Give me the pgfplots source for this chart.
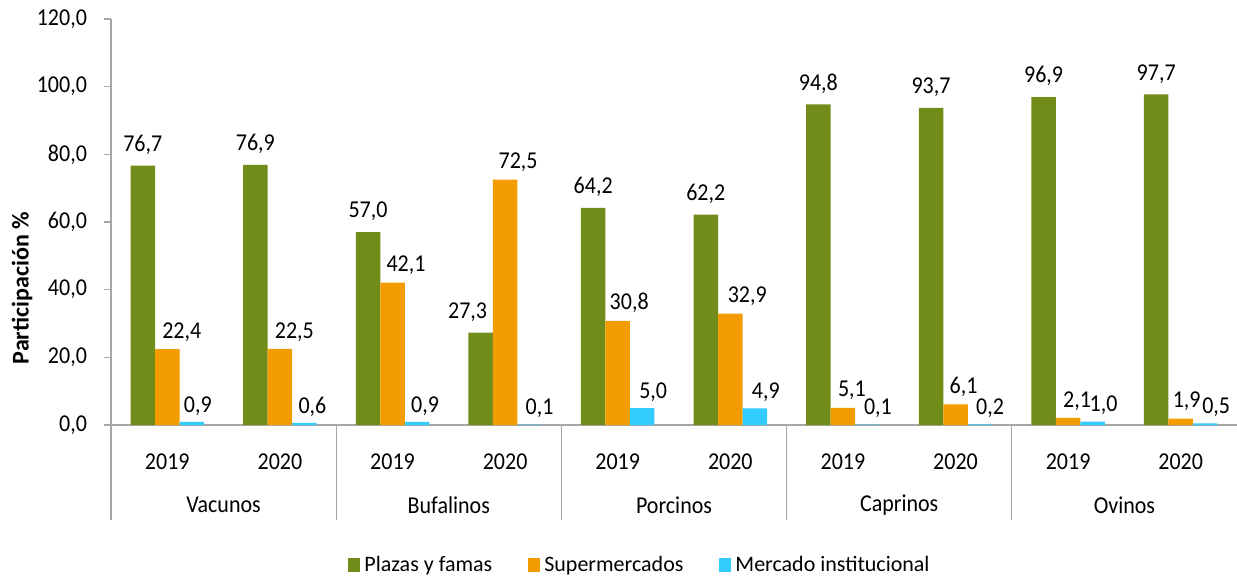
\documentclass[border=0pt]{standalone}
\usepackage{fontspec}
\setmainfont{Carlito}
\usepackage{pgfplots}
\usepackage{pgfplotstable}
\pgfplotsset{compat=1.18}
\definecolor{cgreen}{HTML}{728C1A}
\definecolor{corange}{HTML}{F29C00}
\definecolor{ccyan}{HTML}{33CCFF}
\definecolor{axgray}{HTML}{A6A6A6}
\newcommand{\lblfont}{\fontsize{11}{13}\selectfont}
\pgfplotstableread{
x y dx
0 76.7 0
1 76.9 0
2 57.0 0
3 27.3 -6.5
4 64.2 0
5 62.2 0
6 94.8 0
7 93.7 0
8 96.9 0
9 97.7 0
}\plazas
\pgfplotstableread{
x y dx
0 22.4 7.25
1 22.5 7.25
2 42.1 6.75
3 72.5 6.5
4 30.8 5.75
5 32.9 8.5
6 5.1 4.5
7 6.1 4
8 2.1 4.5
9 1.9 3
}\super
\pgfplotstableread{
x y dx
0 0.9 3
1 0.6 4
2 0.9 4
3 0.1 5
4 5.0 5.5
5 4.9 5.5
6 0.1 5.25
7 0.2 5
8 1.0 5.5
9 0.5 5.5
}\merc
\begin{document}
\begin{tikzpicture}
\useasboundingbox (-55.5pt,-77pt) rectangle (563pt,212.5pt);
\begin{axis}[
  scale only axis, width=563pt, height=203pt,
  at={(0,0)}, anchor=south west,
  ymin=0, ymax=120, xmin=-0.5, xmax=9.5,
  ybar=0pt, bar width=12.25pt,
  axis x line*=bottom, axis y line*=left,
  axis line style={axgray, line width=0.6pt},
  ytick={0,20,...,120},
  xtick={0,...,9},
  xticklabels={2019,2020,2019,2020,2019,2020,2019,2020,2019,2020},
  x tick style={draw=none},
  y tick style={axgray, line width=0.6pt},
  tick align=outside, major tick length=3.5pt,
  /pgf/number format/use comma,
  /pgf/number format/fixed,
  /pgf/number format/fixed zerofill,
  /pgf/number format/precision=1,
  /pgf/number format/assume math mode=true,
  tick label style={font=\lblfont, black, yscale=1.1},
  yticklabel style={xshift=-5pt},
  xticklabel style={anchor=center, yshift=-13.5pt},
  nodes near coords,
  visualization depends on={\thisrow{dx} \as \dx},
  nodes near coords style={font=\lblfont, black, yscale=1.1, xshift=\dx pt},
  ylabel={\textbf{Participación \%}},
  ylabel style={at={(axis description cs:-0.079,0.337)}, anchor=center, font=\fontsize{12}{14}\selectfont},
  legend style={at={(axis description cs:0.4707,-0.345)}, anchor=center, draw=none, legend columns=-1, font=\lblfont,
    /tikz/every even column/.append style={column sep=16pt}},
  legend image code/.code={\fill[#1] (0pt,-3.3pt) rectangle (6pt,3.3pt);},
  clip=false,
]
\addplot[fill=cgreen, draw=none, nodes near coords style={yshift=1.5pt}] table[x=x, y=y] {\plazas};
\addplot[fill=corange, draw=none, nodes near coords style={yshift=0pt}] table[x=x, y=y] {\super};
\addplot[fill=ccyan, draw=none, nodes near coords style={yshift=-0.5pt}] table[x=x, y=y] {\merc};
\legend{Plazas y famas, Supermercados, Mercado institucional}
\pgfplotsinvokeforeach{-0.5,1.5,3.5,5.5,7.5}{
  \draw[axgray, line width=0.6pt] (axis cs:#1,0) -- ++(0pt,-47.5pt);
}
\draw[axgray, line width=0.6pt] (axis cs:-0.5,0) -- ++(-3.5pt,0pt);
\node[font=\lblfont, yscale=1.1] at ([yshift=-40pt]axis cs:0.5,0) {Vacunos};
\node[font=\lblfont, yscale=1.1] at ([yshift=-40pt]axis cs:2.5,0) {Bufalinos};
\node[font=\lblfont, yscale=1.1] at ([yshift=-40pt]axis cs:4.5,0) {Porcinos};
\node[font=\lblfont, yscale=1.1] at ([yshift=-40pt]axis cs:6.5,0) {Caprinos};
\node[font=\lblfont, yscale=1.1] at ([yshift=-40pt]axis cs:8.5,0) {Ovinos};
\end{axis}
\end{tikzpicture}
\end{document}
